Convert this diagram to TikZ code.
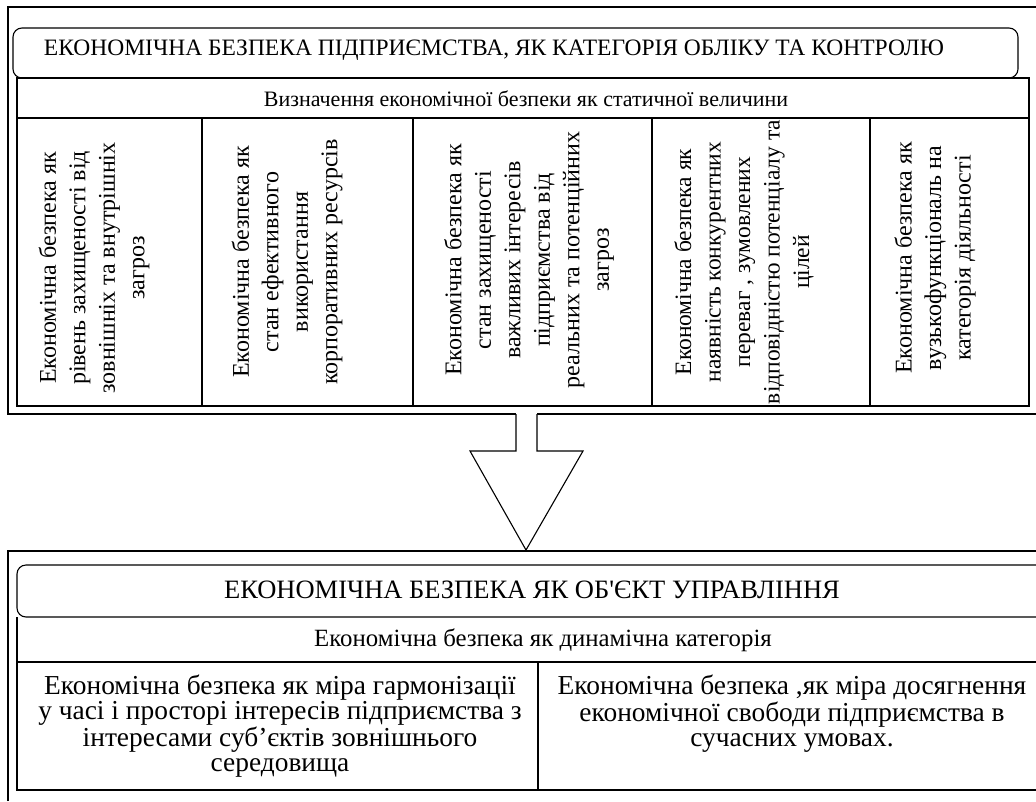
\documentclass[tikz,border=0pt]{standalone}
\usepackage{fontspec}
\setmainfont{Liberation Serif}
\begin{document}
\begin{tikzpicture}[x=1pt,y=-1pt,
  ln/.style={line width=1.1pt, draw=black, line join=miter},
  vtxt/.style={rotate=90, align=center, inner sep=0pt, font=\fontsize{24}{29.5}\selectfont},
  htxt/.style={align=center, inner sep=0pt}]
\useasboundingbox (0,0) rectangle (1036,801);
% ---------- top frame ----------
\draw[ln] (1036,7) -- (8,7) -- (8,414) -- (516,414);
\draw[ln] (537,414) -- (1036,414);
\draw[ln, rounded corners=9pt] (13,28) rectangle (1018,78);
\draw[ln] (17,78) rectangle (1029,118);
\draw[ln] (17,118) rectangle (1029,406);
\foreach \x in {202,413,652,870} \draw[ln] (\x,118) -- (\x,406);
\node[htxt, font=\fontsize{23.5}{27}\selectfont] (t1) at (494,50) {ЕКОНОМІЧНА БЕЗПЕКА ПІДПРИЄМСТВА, ЯК КАТЕГОРІЯ ОБЛІКУ ТА КОНТРОЛЮ};
\node[htxt, font=\fontsize{22}{26}\selectfont] (t2) at (526,99) {Визначення економічної безпеки як статичної величини};
\node[vtxt] (c1) at (94,268) {Економічна безпека як\\рівень захищеності від\\зовнішніх та внутрішніх\\загроз};
\node[vtxt] (c2) at (287,262) {Економічна безпека як\\стан ефективного\\використання\\корпоративних ресурсів};
\node[vtxt] (c3) at (529,260) {Економічна безпека як\\стан захищеності\\важливих інтересів\\підприємства від\\реальних та потенційних\\загроз};
\node[vtxt, font=\fontsize{23.5}{29.5}\selectfont] (c4) at (744,262) {Економічна безпека як\\наявність конкурентних\\переваг , зумовлених\\відповідністю потенціалу та\\цілей};
\node[vtxt] (c5) at (935,258) {Економічна безпека як\\вузькофункціональ на\\категорія діяльності};
% ---------- arrow ----------
\draw[ln, fill=white] (516,414) -- (516,451) -- (470,451) -- (526,550) -- (583,451) -- (537,451) -- (537,414);
% ---------- bottom frame ----------
\draw[ln] (8,801) -- (8,551) -- (1036,551);
\draw[ln, rounded corners=9pt] (1036,565) -- (17,565) -- (17,617) -- (1036,617);
\draw[ln] (17,617) -- (17,790) -- (1036,790);
\draw[ln] (17,662) -- (1036,662);
\draw[ln] (538,662) -- (538,790);
\node[htxt, font=\fontsize{26.5}{30}\selectfont] (b1) at (532,590) {ЕКОНОМІЧНА БЕЗПЕКА ЯК ОБ{\addfontfeatures{Ligatures=TeXOff}'}ЄКТ УПРАВЛІННЯ};
\node[htxt, font=\fontsize{24.8}{28}\selectfont] (b2) at (543,640) {Економічна безпека як динамічна категорія};
\node[htxt, anchor=north, font=\fontsize{27.4}{25}\selectfont] (b3) at (280,675) {Економічна безпека як міра гармонізації\\у часі і просторі інтересів підприємства з\\інтересами суб’єктів зовнішнього\\середовища};
\node[htxt, anchor=north, font=\fontsize{27.4}{25}\selectfont] (b4) at (792,675) {Економічна безпека ,як міра досягнення\\економічної свободи підприємства в\\сучасних умовах.};
\end{tikzpicture}
\end{document}
